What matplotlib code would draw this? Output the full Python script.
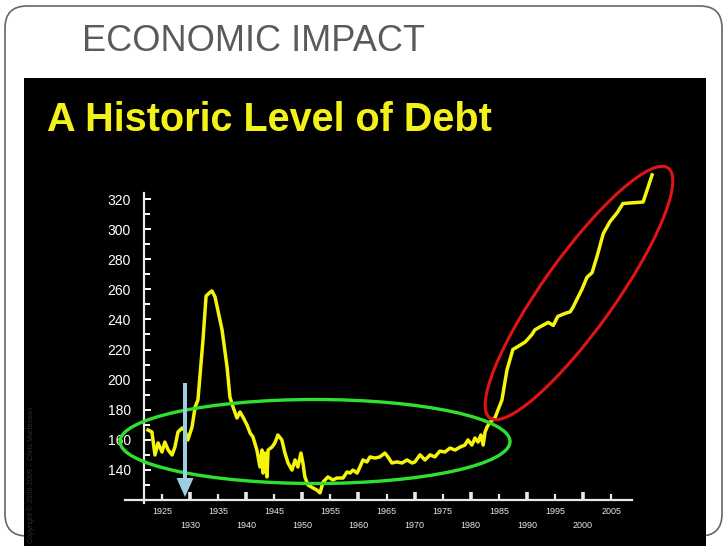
import matplotlib
matplotlib.use('Agg')
import matplotlib.pyplot as plt
from matplotlib.patches import Ellipse, FancyBboxPatch, Rectangle, FancyArrow

plt.rcParams['font.family'] = ['Liberation Sans', 'DejaVu Sans']

# ---- data ----
years = [1922.5, 1923.2, 1923.75, 1924.3, 1925.0, 1925.5, 1926.1, 1926.8, 1927.3, 1927.85,
         1928.6, 1929.1, 1929.6, 1930.35, 1930.9, 1931.4, 1932.3, 1932.85, 1933.4, 1933.9,
         1934.45, 1935.7, 1936.6, 1937.1, 1937.65, 1938.35, 1938.9, 1939.4, 1940.15, 1940.7,
         1941.2, 1941.9, 1942.45, 1942.8, 1943.0, 1943.35, 1943.7, 1943.9, 1944.6, 1945.1,
         1945.65, 1946.35, 1946.9, 1947.45, 1948.15, 1948.7, 1949.2, 1949.75, 1950.1, 1950.45,
         1951.0, 1951.9, 1952.6, 1953.15, 1953.7, 1954.55, 1955.45, 1956.15, 1957.25, 1957.95,
         1958.5, 1959.0, 1959.75, 1960.25, 1960.8, 1961.5, 1962.05, 1962.95, 1963.8, 1964.7,
         1965.25, 1965.95, 1966.85, 1967.75, 1968.65, 1969.55, 1970.05, 1970.95, 1971.85, 1972.75,
         1973.6, 1974.5, 1975.4, 1976.3, 1977.2, 1978.1, 1978.95, 1979.5, 1980.2, 1980.75,
         1981.3, 1981.8, 1982.2, 1982.55, 1982.9, 1983.45, 1984.3, 1984.85, 1985.55, 1986.45,
         1987.5, 1988.4, 1989.7, 1990.9, 1991.4, 1992.3, 1993.8, 1994.7, 1995.5, 1996.8,
         1997.7, 1998.2, 1999.8, 2000.7, 2001.6, 2002.5, 2003.6, 2004.8, 2006.1, 2007.1,
         2010.7, 2012.3]
debt = [166.5, 165.2, 149.9, 157.9, 151.9, 158.5, 153.2, 149.9, 155.2, 165.2,
        167.8, 166.0, 159.9, 168.5, 181.8, 186.4, 226.3, 255.5, 257.5, 258.9,
        254.9, 233.0, 208.0, 188.4, 181.8, 174.5, 178.5, 175.2, 169.8, 164.5,
        161.9, 153.2, 141.9, 153.2, 137.9, 151.2, 135.3, 153.2, 155.2, 157.9,
        163.2, 159.9, 151.2, 144.6, 139.9, 146.6, 141.9, 151.2, 144.6, 135.3,
        130.0, 128.0, 126.6, 124.7, 132.0, 135.3, 133.3, 134.6, 134.6, 138.6,
        137.9, 139.9, 137.9, 141.9, 146.6, 145.3, 148.6, 147.9, 148.6, 151.2,
        148.6, 144.6, 145.3, 144.6, 146.6, 144.6, 145.3, 150.0, 146.6, 150.0,
        148.6, 152.5, 151.9, 154.5, 153.2, 155.2, 156.5, 159.9, 156.5, 161.2,
        158.5, 163.2, 156.5, 165.2, 168.5, 171.8, 174.5, 179.8, 186.4, 206.4,
        220.0, 222.0, 225.0, 230.0, 233.0, 235.0, 238.0, 236.0, 242.0, 244.0,
        245.0, 248.0, 260.0, 268.0, 271.0, 282.0, 297.0, 305.0, 311.0, 317.0,
        318.0, 336.0]

y_ticks = [140, 160, 180, 200, 220, 240, 260, 280, 300, 320]
y_minor = [130, 150, 170, 190, 210, 230, 250, 270, 290, 310]
x_upper = [1925, 1935, 1945, 1955, 1965, 1975, 1985, 1995, 2005]
x_lower = [1930, 1940, 1950, 1960, 1970, 1980, 1990, 2000]

title = "ECONOMIC IMPACT"
heading = "A Historic Level of Debt"
watermark = "Copyright \u00a9 2008-2009 \u2013 Chris Martenson"

# ---- layout (pixels) ----
W, H = 728, 546
px_x0, px_per_year = 162.0, 5.614     # pixel of 1925, px per year
px_y320, px_per_unit = 199.0, 1.505   # pixel of 320, px per unit


def yr(px):
    return 1925 + (px - px_x0) / px_per_year


def val(py):
    return 320 - (py - px_y320) / px_per_unit


fig = plt.figure(figsize=(W / 100, H / 100), dpi=100)
fig.patch.set_facecolor('white')

bg = fig.add_axes([0, 0, 1, 1], zorder=0)
bg.set_xlim(0, W)
bg.set_ylim(H, 0)
bg.axis('off')
bg.add_patch(FancyBboxPatch((5, 6), 717, 530, boxstyle="round,pad=0,rounding_size=22",
                            fc='white', ec='#666666', lw=1.2))
bg.add_patch(Rectangle((24, 78), 682, 470, fc='black', ec='none'))
bg.text(82, 51, title, fontsize=26, color='#5a5a5a', va='baseline', ha='left')
bg.text(47, 131, heading, fontsize=28.5, fontweight='bold', color='#f2f21a',
        va='baseline', ha='left')
bg.text(31, 543, watermark, fontsize=5.2, color='#2e2e2e', rotation=90,
        va='bottom', ha='center')

# ---- chart axes ----
left_px, right_px, top_px, bot_px = 120, 660, 160, 505
ax = fig.add_axes([left_px / W, (H - bot_px) / H, (right_px - left_px) / W,
                   (bot_px - top_px) / H], zorder=1)
ax.patch.set_alpha(0)
ax.set_xlim(yr(left_px), yr(right_px))
ax.set_ylim(val(bot_px), val(top_px))

ax.plot(years, debt, color='#f5f50c', lw=2.5, clip_on=False, solid_joinstyle='round')

for s in ['top', 'right']:
    ax.spines[s].set_visible(False)
ax.spines['left'].set_position(('data', yr(144)))
ax.spines['left'].set_bounds(val(503), val(193))
ax.spines['bottom'].set_position(('data', val(500)))
ax.spines['bottom'].set_bounds(yr(125), yr(632))
for s in ['left', 'bottom']:
    ax.spines[s].set_color('#e8e8e8')
    ax.spines[s].set_linewidth(1.6)

ax.set_yticks(y_ticks)
ax.set_yticklabels([str(v) for v in y_ticks])
ax.set_yticks(y_minor, minor=True)
ax.tick_params(axis='y', which='both', direction='in', colors='white', labelsize=10,
               width=1.4, length=5, pad=9.3)
ax.tick_params(axis='y', which='minor', length=4)

ax.set_xticks(x_lower)
ax.set_xticklabels([str(v) for v in x_lower])
ax.set_xticks(x_upper, minor=True)
ax.set_xticklabels([str(v) for v in x_upper], minor=True)
ax.tick_params(axis='x', which='major', direction='in', colors='#e8e8e8', labelsize=6.5,
               width=2.6, length=5.5, pad=15)
ax.tick_params(axis='x', which='minor', direction='in', colors='#e8e8e8', labelsize=6.5,
               width=1.6, length=4.5, pad=5)

# ---- annotations overlay ----
ov = fig.add_axes([0, 0, 1, 1], zorder=2)
ov.set_xlim(0, W)
ov.set_ylim(H, 0)
ov.axis('off')
ov.patch.set_alpha(0)
ov.add_patch(Ellipse((315, 441.5), 390, 84, angle=0, fill=False, ec='#2fe02f', lw=2.4))
ov.add_patch(Ellipse((579, 293), 307, 72, angle=-54.5, fill=False, ec='#e01414', lw=2.2))
ov.add_patch(FancyArrow(185, 383, 0, 114, width=4, head_width=17, head_length=19,
                        length_includes_head=True, color='#9ccfe0', lw=0))

fig.savefig('out.png', dpi=100, facecolor='white')
